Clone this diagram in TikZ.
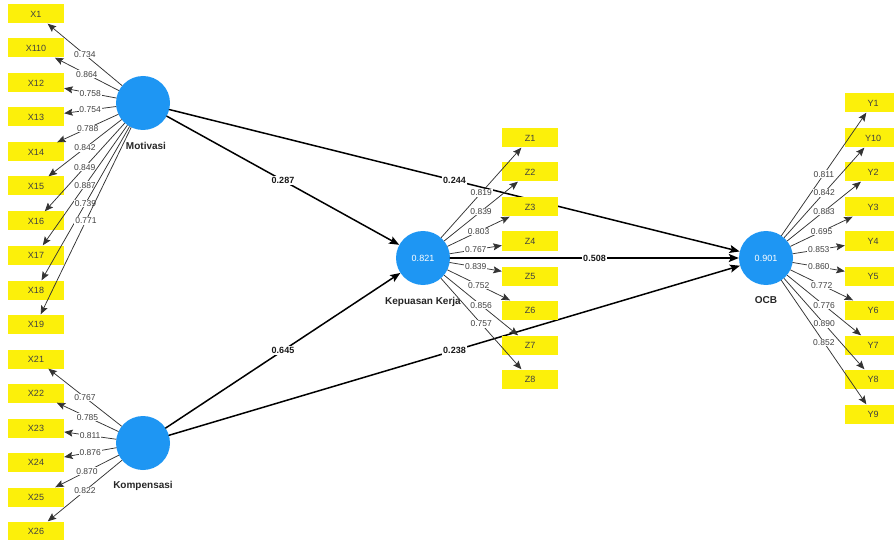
\documentclass[tikz,border=0pt]{standalone}
\usepackage{fontspec}
\setmainfont{Liberation Sans}
\usetikzlibrary{arrows.meta}
\definecolor{biru}{RGB}{30,150,243}
\definecolor{kuning}{RGB}{252,240,10}

\begin{document}
\begin{tikzpicture}[x=1pt,y=-1pt,line cap=round]
	\tikzstyle{bulat}=[circle,fill=biru,minimum size=54pt,inner sep=0pt,text=white,font=\fontsize{9}{10}\selectfont];
	\tikzstyle{kotak}=[fill=kuning,minimum width=56pt,minimum height=19pt,inner sep=0pt,text=black!75,font=\fontsize{9}{10}\selectfont];
	\tikzstyle{nama}=[text=black!85,font=\bfseries\fontsize{10}{12}\selectfont];
	\tikzstyle{muat}=[draw=black!80,line width=0.75pt,-{Stealth[length=8.5pt,width=7pt,inset=1.5pt]}];
	\tikzstyle{jalur}=[draw=black,line width=1.5pt,-{Stealth[length=10pt,width=8pt,inset=2pt]}];
	\tikzstyle{nilai}=[fill=white,inner sep=0.8pt,text=black!75,font=\fontsize{8.5}{10}\selectfont];
	\tikzstyle{koef}=[fill=white,inner sep=1pt,text=black!90,font=\bfseries\fontsize{9}{10}\selectfont];
	\useasboundingbox (0,0) rectangle (894,540);
	%% konstruk
	\node[bulat] (M)  at (143,103) {};
	\node[bulat] (K)  at (143,443) {};
	\node[bulat] (KK) at (423,258) {0.821};
	\node[bulat] (O)  at (766,258) {0.901};
	\node[nama] (nM)  at (146,146) {Motivasi};
	\node[nama] (nK)  at (143,486) {Kompensasi};
	\node[nama] (nKK) at (423,302) {Kepuasan Kerja};
	\node[nama] (nO)  at (766,300) {OCB};
	%% jalur struktural
	\draw (M)  edge[jalur] node[koef]{0.287} (KK);
	\draw (M)  edge[jalur] node[koef]{0.244} (O);
	\draw (K)  edge[jalur] node[koef]{0.645} (KK);
	\draw (K)  edge[jalur] node[koef]{0.238} (O);
	\draw (KK) edge[jalur] node[koef]{0.508} (O);
	%% indikator X
	\node[kotak] (X1)   at (36,14)  {X1};
	\node[kotak] (X110) at (36,48)  {X110};
	\node[kotak] (X12)  at (36,83)  {X12};
	\node[kotak] (X13)  at (36,117) {X13};
	\node[kotak] (X14)  at (36,152) {X14};
	\node[kotak] (X15)  at (36,186) {X15};
	\node[kotak] (X16)  at (36,221) {X16};
	\node[kotak] (X17)  at (36,255) {X17};
	\node[kotak] (X18)  at (36,290) {X18};
	\node[kotak] (X19)  at (36,324) {X19};
	\node[kotak] (X21)  at (36,359) {X21};
	\node[kotak] (X22)  at (36,393) {X22};
	\node[kotak] (X23)  at (36,428) {X23};
	\node[kotak] (X24)  at (36,462) {X24};
	\node[kotak] (X25)  at (36,497) {X25};
	\node[kotak] (X26)  at (36,531) {X26};
	%% indikator Z
	\node[kotak] (Z1) at (530,138) {Z1};
	\node[kotak] (Z2) at (530,172) {Z2};
	\node[kotak] (Z3) at (530,207) {Z3};
	\node[kotak] (Z4) at (530,241) {Z4};
	\node[kotak] (Z5) at (530,276) {Z5};
	\node[kotak] (Z6) at (530,310) {Z6};
	\node[kotak] (Z7) at (530,345) {Z7};
	\node[kotak] (Z8) at (530,379) {Z8};
	%% indikator Y
	\node[kotak] (Y1)  at (873,103) {Y1};
	\node[kotak] (Y10) at (873,138) {Y10};
	\node[kotak] (Y2)  at (873,172) {Y2};
	\node[kotak] (Y3)  at (873,207) {Y3};
	\node[kotak] (Y4)  at (873,241) {Y4};
	\node[kotak] (Y5)  at (873,276) {Y5};
	\node[kotak] (Y6)  at (873,310) {Y6};
	\node[kotak] (Y7)  at (873,345) {Y7};
	\node[kotak] (Y8)  at (873,379) {Y8};
	\node[kotak] (Y9)  at (873,414) {Y9};
	%% loading Motivasi
	\draw (M) edge[muat] node[nilai]{0.734} (X1);
	\draw (M) edge[muat] node[nilai]{0.864} (X110);
	\draw (M) edge[muat] node[nilai]{0.758} (X12);
	\draw (M) edge[muat] node[nilai]{0.754} (X13);
	\draw (M) edge[muat] node[nilai]{0.788} (X14);
	\draw (M) edge[muat] node[nilai]{0.842} (X15);
	\draw (M) edge[muat] node[nilai]{0.849} (X16);
	\draw (M) edge[muat] node[nilai]{0.887} (X17);
	\draw (M) edge[muat] node[nilai]{0.739} (X18);
	\draw (M) edge[muat] node[nilai]{0.771} (X19);
	%% loading Kompensasi
	\draw (K) edge[muat] node[nilai]{0.767} (X21);
	\draw (K) edge[muat] node[nilai]{0.785} (X22);
	\draw (K) edge[muat] node[nilai]{0.811} (X23);
	\draw (K) edge[muat] node[nilai]{0.876} (X24);
	\draw (K) edge[muat] node[nilai]{0.870} (X25);
	\draw (K) edge[muat] node[nilai]{0.822} (X26);
	%% loading Kepuasan Kerja
	\draw (KK) edge[muat] node[nilai]{0.819} (Z1);
	\draw (KK) edge[muat] node[nilai]{0.839} (Z2);
	\draw (KK) edge[muat] node[nilai]{0.803} (Z3);
	\draw (KK) edge[muat] node[nilai]{0.767} (Z4);
	\draw (KK) edge[muat] node[nilai]{0.839} (Z5);
	\draw (KK) edge[muat] node[nilai]{0.752} (Z6);
	\draw (KK) edge[muat] node[nilai]{0.856} (Z7);
	\draw (KK) edge[muat] node[nilai]{0.757} (Z8);
	%% loading OCB
	\draw (O) edge[muat] node[nilai]{0.811} (Y1);
	\draw (O) edge[muat] node[nilai]{0.842} (Y10);
	\draw (O) edge[muat] node[nilai]{0.883} (Y2);
	\draw (O) edge[muat] node[nilai]{0.695} (Y3);
	\draw (O) edge[muat] node[nilai]{0.853} (Y4);
	\draw (O) edge[muat] node[nilai]{0.860} (Y5);
	\draw (O) edge[muat] node[nilai]{0.772} (Y6);
	\draw (O) edge[muat] node[nilai]{0.776} (Y7);
	\draw (O) edge[muat] node[nilai]{0.890} (Y8);
	\draw (O) edge[muat] node[nilai]{0.852} (Y9);
\end{tikzpicture}
\end{document}
